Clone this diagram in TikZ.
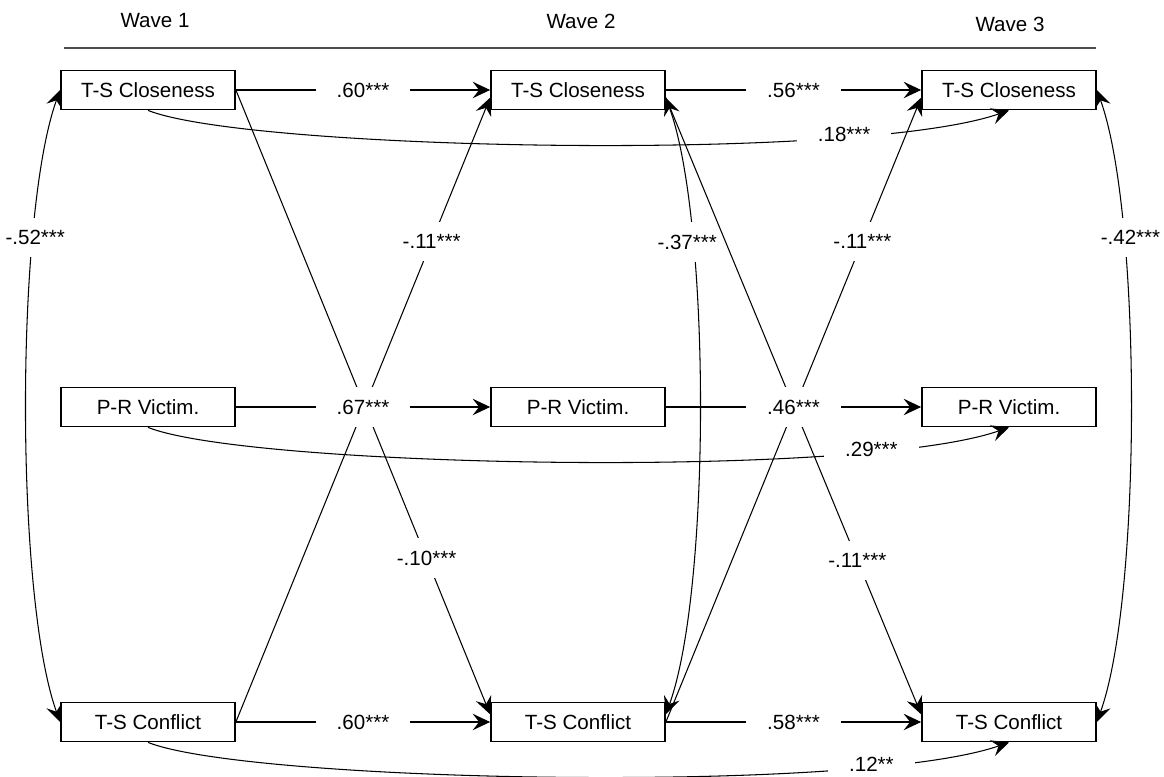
\documentclass[tikz,border=0pt]{standalone}
\usepackage{fontspec}
\setmainfont{Liberation Sans}
\usetikzlibrary{arrows.meta}

\begin{document}
\begin{tikzpicture}[line width=0.6pt,
  font=\fontsize{11.7}{14}\selectfont,
  var/.style={draw, line width=1pt, minimum width=3.48cm, minimum height=0.78cm, inner sep=0pt},
  lbl/.style={fill=white, inner xsep=0.42cm, inner ysep=0.25cm},
  arr/.style={-{Stealth[length=3.5mm, width=3.3mm, inset=1.3mm]}},
  cov/.style={{Stealth[length=3.5mm, width=3.3mm, inset=1.3mm]}-{Stealth[length=3.5mm, width=3.3mm, inset=1.3mm]}}]

  \useasboundingbox (0,0) rectangle (23.28,-15.54);

  \def\xa{2.96} \def\xb{11.56} \def\xc{20.18}
  \def\ya{-1.8} \def\yb{-8.14} \def\yc{-14.44}

  \node (w1) at (3.1,-0.42) {Wave 1};
  \node (w2) at (11.62,-0.42) {Wave 2};
  \node (w3) at (20.2,-0.48) {Wave 3};
  \draw[line width=0.8pt, black!70] (1.28,-0.96) -- (21.92,-0.96);

  \node[var] (c1) at (\xa,\ya) {T-S Closeness};
  \node[var] (c2) at (\xb,\ya) {T-S Closeness};
  \node[var] (c3) at (\xc,\ya) {T-S Closeness};
  \node[var] (v1) at (\xa,\yb) {P-R Victim.};
  \node[var] (v2) at (\xb,\yb) {P-R Victim.};
  \node[var] (v3) at (\xc,\yb) {P-R Victim.};
  \node[var] (f1) at (\xa,\yc) {T-S Conflict};
  \node[var] (f2) at (\xb,\yc) {T-S Conflict};
  \node[var] (f3) at (\xc,\yc) {T-S Conflict};

  \foreach \r/\p/\t in {c/.18***/0.77, v/.29***/0.8, f/.12**/0.8} {
    \draw[arr] (\r1.south) .. controls +(2.0,-0.8) and +(-3.0,-1.04) .. (\r3.south)
      node[lbl, pos=\t, yshift=1pt] {\p};
  }

  \draw[cov] (c1.west) .. controls +(-0.9,-2.5) and +(-0.9,2.5) .. (f1.west)
    node[lbl, pos=0.27, xshift=1pt] {-.52***};
  \draw[cov] (c3.east) .. controls +(0.9,-2.5) and +(0.9,2.5) .. (f3.east)
    node[lbl, pos=0.27, xshift=4pt] {-.42***};
  \draw[cov] (c2.355) .. controls +(0.9,-2.5) and +(0.9,2.5) .. (f2.5)
    node[lbl, pos=0.27, xshift=-3pt] {-.37***};

  \draw[arr] (c1.east) -- (f2.175) node[lbl, pos=0.75] {-.10***};
  \draw[arr] (f1.east) -- (c2.185) node[lbl, pos=0.77] {-.11***};
  \draw[arr] (c2.355) -- (f3.175) node[lbl, pos=0.75] {-.11***};
  \draw[arr] (f2.east) -- (c3.185) node[lbl, pos=0.77] {-.11***};

  \foreach \r/\p/\q in {c/.60***/.56***, v/.67***/.46***, f/.60***/.58***} {
    \draw[arr] (\r1) -- (\r2) node[lbl, midway] {\p};
    \draw[arr] (\r2) -- (\r3) node[lbl, midway] {\q};
  }

\end{tikzpicture}
\end{document}
